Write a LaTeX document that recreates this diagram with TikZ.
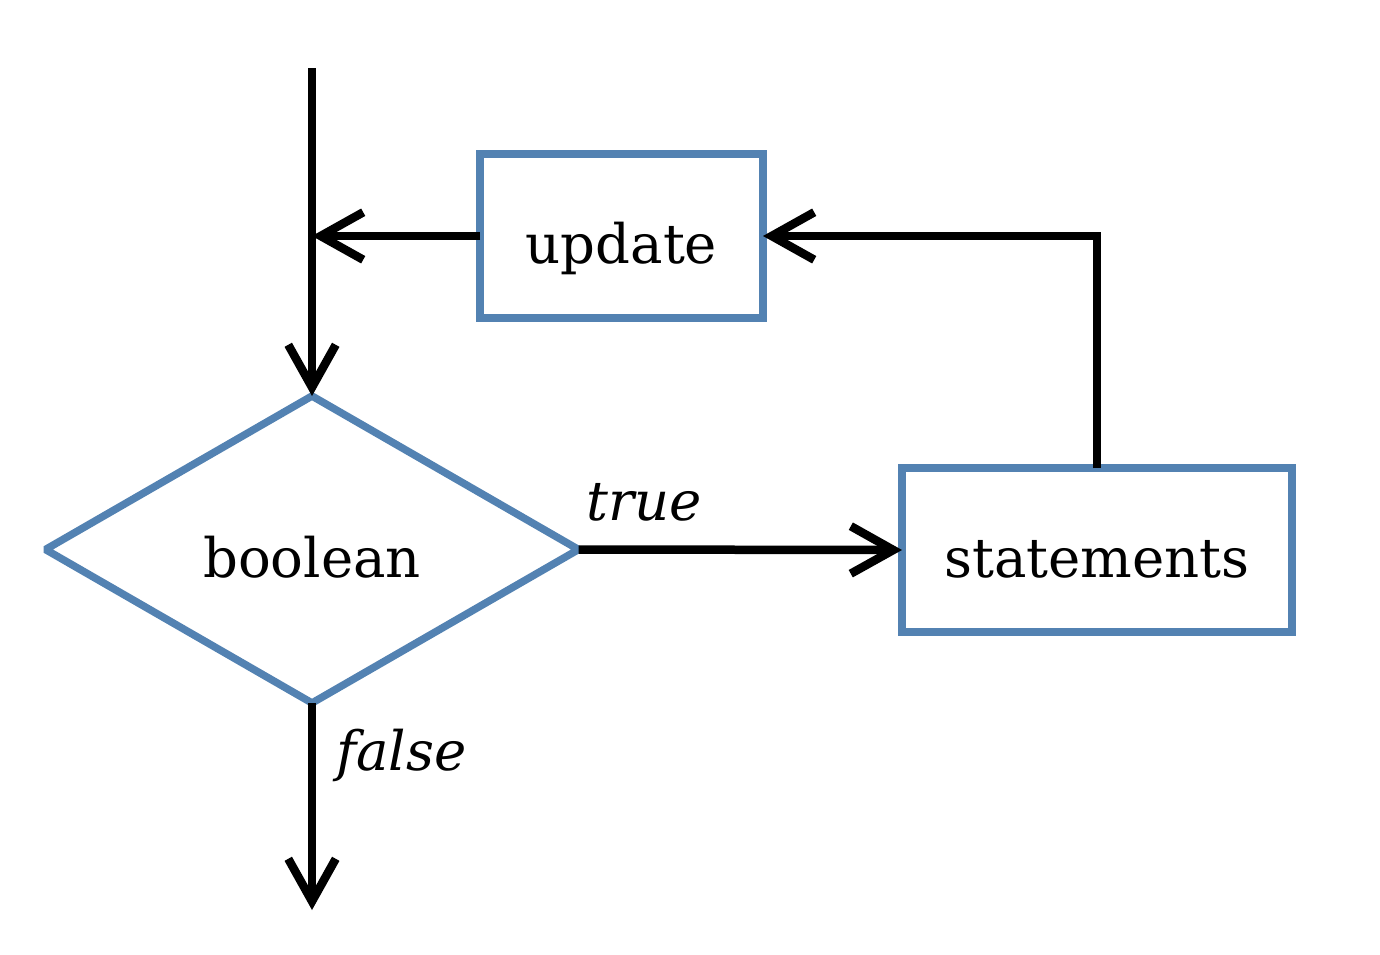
\documentclass[tikz,border=0pt]{standalone}
\usepackage{fontspec}
\setmainfont{DejaVu Serif}
\usetikzlibrary{shapes.geometric,arrows.meta}
\definecolor{boxblue}{RGB}{83,130,178}
\begin{document}
\begin{tikzpicture}[
        box/.style={draw=boxblue, line width=0.15cm, fill=white, inner sep=0pt, outer sep=0pt, text height=1.4cm, text depth=0.3cm},
        flow/.style={line width=0.17cm, -{Straight Barb[length=0.85cm, width=0.95cm]}},
        font=\fontsize{31}{37}\selectfont]
            \useasboundingbox (0,0) rectangle (27.6,-19.08);
            \node[box, minimum width=5.66cm, minimum height=3.28cm] (update) at (12.43,-4.72) {update};
            \node[box, minimum width=7.8cm, minimum height=3.28cm] (statements) at (21.94,-11.0) {statements};
            \node[box, diamond, line join=bevel, minimum width=10.66cm, minimum height=6.14cm] (boolean) at (6.24,-10.99) {boolean};
            \coordinate (start) at (6.24,-1.36);
            \coordinate (join) at (6.24,-4.72);
            \coordinate (exit) at (6.24,-18.2);
            \node[anchor=base west, font=\fontsize{31}{37}\selectfont\itshape] (truelabel) at (11.6,-10.4) {true};
            \node[anchor=base west, font=\fontsize{31}{37}\selectfont\itshape] (falselabel) at (6.6,-15.4) {false};
            \draw[flow] (start) -- (boolean.north);
            \draw[flow] (update.west) -- (join);
            \draw[flow] (statements.north) |- (update.east);
            \draw[flow] (boolean.east) -- (statements.west);
            \draw[flow] (boolean.south) -- (exit);
        \end{tikzpicture}
\end{document}
